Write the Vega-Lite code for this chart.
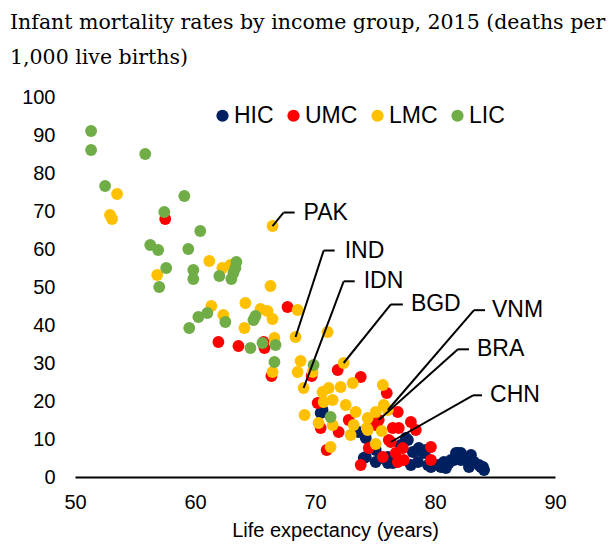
{
  "$schema": "https://vega.github.io/schema/vega-lite/v6.json",
  "width": 480,
  "height": 380,
  "autosize": "none",
  "padding": {"left": 75, "top": 97, "right": 54, "bottom": 71},
  "background": "white",
  "title": {
    "text": ["Infant mortality rates by income group, 2015 (deaths per", "1,000 live births)"],
    "anchor": "start",
    "frame": "group",
    "dx": -65,
    "dy": -9,
    "font": "DejaVu Serif",
    "fontSize": 20.5,
    "fontWeight": "normal",
    "color": "black",
    "lineHeight": 35,
    "offset": 10
  },
  "config": {
    "view": {"stroke": null},
    "axis": {"grid": false, "ticks": false}
  },
  "datasets": {
    "pts": [
      {"g":"HIC","le":70.63,"imr":17.63},{"g":"HIC","le":70.47,"imr":16.84},{"g":"HIC","le":73.64,"imr":11.84},{"g":"HIC","le":74.23,"imr":10.26},
      {"g":"HIC","le":74.06,"imr":5.0},{"g":"HIC","le":75.06,"imr":3.95},{"g":"HIC","le":76.07,"imr":3.68},{"g":"HIC","le":77.57,"imr":10.26},
      {"g":"HIC","le":77.74,"imr":9.74},{"g":"HIC","le":77.15,"imr":8.42},{"g":"HIC","le":78.15,"imr":6.58},{"g":"HIC","le":78.65,"imr":7.63},
      {"g":"HIC","le":78.57,"imr":3.95},{"g":"HIC","le":78.57,"imr":7.11},{"g":"HIC","le":79.07,"imr":6.32},{"g":"HIC","le":79.24,"imr":7.11},
      {"g":"HIC","le":79.41,"imr":3.16},{"g":"HIC","le":79.66,"imr":2.63},{"g":"HIC","le":80.24,"imr":3.16},{"g":"HIC","le":80.49,"imr":2.63},
      {"g":"HIC","le":80.74,"imr":3.95},{"g":"HIC","le":81.16,"imr":3.68},{"g":"HIC","le":81.33,"imr":4.47},{"g":"HIC","le":81.58,"imr":4.47},
      {"g":"HIC","le":81.75,"imr":6.32},{"g":"HIC","le":81.91,"imr":6.32},{"g":"HIC","le":82.0,"imr":5.0},{"g":"HIC","le":82.16,"imr":6.32},
      {"g":"HIC","le":82.16,"imr":4.47},{"g":"HIC","le":82.58,"imr":4.47},{"g":"HIC","le":82.75,"imr":3.95},{"g":"HIC","le":82.83,"imr":2.63},
      {"g":"HIC","le":83.17,"imr":3.95},{"g":"HIC","le":83.25,"imr":3.95},{"g":"HIC","le":83.67,"imr":3.16},{"g":"HIC","le":83.83,"imr":2.63},
      {"g":"HIC","le":84.0,"imr":2.63},{"g":"HIC","le":84.09,"imr":1.84},{"g":"HIC","le":75.48,"imr":5.0},{"g":"HIC","le":76.07,"imr":5.26},
      {"g":"HIC","le":74.23,"imr":5.26},{"g":"HIC","le":76.48,"imr":3.68},{"g":"HIC","le":77.99,"imr":3.16},{"g":"HIC","le":75.06,"imr":7.11},
      {"g":"HIC","le":83.0,"imr":5.79},{"g":"HIC","le":80.91,"imr":2.37},
      {"g":"UMC","le":57.52,"imr":67.89},{"g":"UMC","le":61.95,"imr":35.53},{"g":"UMC","le":63.62,"imr":34.47},{"g":"UMC","le":65.71,"imr":35.53},
      {"g":"UMC","le":65.79,"imr":33.95},{"g":"UMC","le":67.71,"imr":44.74},{"g":"UMC","le":69.72,"imr":26.58},{"g":"UMC","le":66.37,"imr":26.58},
      {"g":"UMC","le":70.22,"imr":19.47},{"g":"UMC","le":70.47,"imr":12.89},{"g":"UMC","le":71.89,"imr":28.16},{"g":"UMC","le":73.81,"imr":26.32},
      {"g":"UMC","le":75.98,"imr":22.11},{"g":"UMC","le":70.97,"imr":7.11},{"g":"UMC","le":71.97,"imr":11.84},{"g":"UMC","le":72.81,"imr":15.0},
      {"g":"UMC","le":74.48,"imr":7.63},{"g":"UMC","le":73.81,"imr":3.16},{"g":"UMC","le":75.65,"imr":5.26},{"g":"UMC","le":76.15,"imr":9.74},
      {"g":"UMC","le":76.73,"imr":6.32},{"g":"UMC","le":77.32,"imr":7.63},{"g":"UMC","le":76.9,"imr":3.95},{"g":"UMC","le":77.4,"imr":4.47},
      {"g":"UMC","le":76.98,"imr":12.89},{"g":"UMC","le":77.99,"imr":14.47},{"g":"UMC","le":78.4,"imr":12.37},{"g":"UMC","le":76.32,"imr":9.21},
      {"g":"UMC","le":79.66,"imr":7.89},{"g":"UMC","le":79.66,"imr":4.47},{"g":"UMC","le":75.06,"imr":13.68},{"g":"UMC","le":76.48,"imr":12.89},
      {"g":"UMC","le":76.9,"imr":17.11},{"g":"UMC","le":75.31,"imr":15.0},
      {"g":"LMC","le":53.51,"imr":74.47},{"g":"LMC","le":52.92,"imr":68.95},{"g":"LMC","le":53.09,"imr":67.89},{"g":"LMC","le":56.85,"imr":53.16},
      {"g":"LMC","le":61.19,"imr":56.84},{"g":"LMC","le":62.28,"imr":55.0},{"g":"LMC","le":62.95,"imr":55.79},{"g":"LMC","le":66.29,"imr":50.26},
      {"g":"LMC","le":66.46,"imr":66.05},{"g":"LMC","le":61.36,"imr":45.0},{"g":"LMC","le":62.36,"imr":42.63},{"g":"LMC","le":64.2,"imr":45.79},
      {"g":"LMC","le":65.46,"imr":44.21},{"g":"LMC","le":66.04,"imr":43.68},{"g":"LMC","le":66.46,"imr":41.58},{"g":"LMC","le":64.12,"imr":39.21},
      {"g":"LMC","le":68.55,"imr":43.95},{"g":"LMC","le":66.62,"imr":36.58},{"g":"LMC","le":68.38,"imr":36.84},{"g":"LMC","le":71.05,"imr":38.16},
      {"g":"LMC","le":66.46,"imr":27.63},{"g":"LMC","le":68.8,"imr":30.53},{"g":"LMC","le":68.55,"imr":27.63},{"g":"LMC","le":69.8,"imr":27.63},
      {"g":"LMC","le":69.05,"imr":23.42},{"g":"LMC","le":72.39,"imr":30.0},{"g":"LMC","le":73.14,"imr":24.74},{"g":"LMC","le":75.65,"imr":24.21},
      {"g":"LMC","le":70.63,"imr":22.37},{"g":"LMC","le":71.14,"imr":23.42},{"g":"LMC","le":72.14,"imr":23.68},{"g":"LMC","le":70.72,"imr":19.74},
      {"g":"LMC","le":71.47,"imr":20.26},{"g":"LMC","le":69.13,"imr":16.32},{"g":"LMC","le":72.56,"imr":18.95},{"g":"LMC","le":73.39,"imr":17.11},
      {"g":"LMC","le":73.22,"imr":13.68},{"g":"LMC","le":72.97,"imr":11.05},{"g":"LMC","le":74.39,"imr":15.53},{"g":"LMC","le":75.06,"imr":17.11},
      {"g":"LMC","le":76.07,"imr":17.63},{"g":"LMC","le":70.3,"imr":14.21},{"g":"LMC","le":71.47,"imr":13.68},{"g":"LMC","le":74.31,"imr":12.89},
      {"g":"LMC","le":75.56,"imr":12.11},{"g":"LMC","le":75.06,"imr":8.68},{"g":"LMC","le":71.3,"imr":7.89},{"g":"LMC","le":74.39,"imr":12.37},
      {"g":"LMC","le":75.73,"imr":18.95},
      {"g":"LIC","le":51.34,"imr":91.05},{"g":"LIC","le":51.34,"imr":86.05},{"g":"LIC","le":55.85,"imr":85.0},{"g":"LIC","le":52.51,"imr":76.58},
      {"g":"LIC","le":59.11,"imr":73.95},{"g":"LIC","le":57.44,"imr":69.74},{"g":"LIC","le":60.44,"imr":64.74},{"g":"LIC","le":56.27,"imr":61.05},
      {"g":"LIC","le":56.93,"imr":59.74},{"g":"LIC","le":59.44,"imr":60.0},{"g":"LIC","le":57.6,"imr":55.0},{"g":"LIC","le":59.86,"imr":54.47},
      {"g":"LIC","le":59.86,"imr":52.11},{"g":"LIC","le":57.02,"imr":50.0},{"g":"LIC","le":62.03,"imr":52.89},{"g":"LIC","le":63.45,"imr":56.58},
      {"g":"LIC","le":63.37,"imr":55.0},{"g":"LIC","le":63.2,"imr":53.68},{"g":"LIC","le":63.03,"imr":52.11},{"g":"LIC","le":61.03,"imr":43.16},
      {"g":"LIC","le":60.28,"imr":42.11},{"g":"LIC","le":59.52,"imr":39.21},{"g":"LIC","le":62.53,"imr":40.79},{"g":"LIC","le":65.04,"imr":42.37},
      {"g":"LIC","le":64.87,"imr":41.32},{"g":"LIC","le":64.62,"imr":33.95},{"g":"LIC","le":65.62,"imr":35.26},{"g":"LIC","le":66.71,"imr":34.74},
      {"g":"LIC","le":66.62,"imr":30.26},{"g":"LIC","le":69.88,"imr":29.47},{"g":"LIC","le":71.3,"imr":15.79}
    ],
    "segs": [
      {"le":66.46,"imr":66.05,"le2":67.38,"imr2":69.6},{"le":67.38,"imr":69.6,"le2":68.30,"imr2":69.6},
      {"le":68.38,"imr":36.84,"le2":70.72,"imr2":59.6},{"le":70.72,"imr":59.6,"le2":71.64,"imr2":59.6},
      {"le":69.05,"imr":23.42,"le2":72.39,"imr2":51.5},{"le":72.39,"imr":51.5,"le2":73.31,"imr2":51.5},
      {"le":72.39,"imr":30.0,"le2":76.32,"imr2":45.4},{"le":76.32,"imr":45.4,"le2":77.32,"imr2":45.4},
      {"le":76.07,"imr":17.63,"le2":83.25,"imr2":43.9},{"le":83.25,"imr":43.9,"le2":84.17,"imr2":43.9},
      {"le":75.31,"imr":15.0,"le2":81.91,"imr2":33.6},{"le":81.91,"imr":33.6,"le2":82.83,"imr2":33.6},
      {"le":76.32,"imr":9.21,"le2":83.17,"imr2":21.5},{"le":83.17,"imr":21.5,"le2":83.92,"imr2":21.5}
    ],
    "labs": [
      {"lab":"PAK","le":69.05,"imr":69.6},
      {"lab":"IND","le":72.47,"imr":59.6},
      {"lab":"IDN","le":74.06,"imr":51.5},
      {"lab":"BGD","le":77.99,"imr":45.4},
      {"lab":"VNM","le":84.75,"imr":43.9},
      {"lab":"BRA","le":83.5,"imr":33.6},
      {"lab":"CHN","le":84.59,"imr":21.5}
    ]
  },
  "encoding": {
    "x": {"field": "le", "type": "quantitative", "scale": {"domain": [50, 90], "nice": false, "zero": false},
      "axis": {"title": "Life expectancy (years)", "values": [50, 60, 70, 80, 90], "domainColor": "black", "domainWidth": 2,
        "labelFont": "Liberation Sans", "labelFontSize": 20, "labelColor": "black",
        "titleFont": "Liberation Sans", "titleFontSize": 20, "titleFontWeight": "normal", "titleColor": "black",
        "labelPadding": 15, "titlePadding": 8, "titleX": 260, "labelFlush": false}},
    "y": {"field": "imr", "type": "quantitative", "scale": {"domain": [0, 100], "nice": false},
      "axis": {"title": null, "values": [0, 10, 20, 30, 40, 50, 60, 70, 80, 90, 100], "domain": false,
        "labelFont": "Liberation Sans", "labelFontSize": 20, "labelColor": "black", "labelPadding": 20}}
  },
  "layer": [
    {
      "data": {"name": "pts"},
      "mark": {"type": "point", "filled": true, "shape": "circle", "size": 140, "opacity": 1, "strokeWidth": 0},
      "encoding": {
        "color": {"field": "g", "type": "nominal",
          "scale": {"domain": ["HIC", "UMC", "LMC", "LIC"], "range": ["#002060", "#FF0000", "#FFC000", "#70AD47"]},
          "legend": {"title": null, "orient": "none", "direction": "horizontal", "legendX": 136, "legendY": 7,
            "labelFont": "Liberation Sans", "labelFontSize": 23, "labelColor": "black", "symbolSize": 150, "symbolType": "circle",
            "symbolStrokeWidth": 0, "labelOffset": 0, "columnPadding": 8, "symbolOpacity": 1}
        }
      }
    },
    {
      "data": {"name": "segs"},
      "mark": {"type": "rule", "color": "black", "strokeWidth": 2},
      "encoding": {"x2": {"field": "le2"}, "y2": {"field": "imr2"}}
    },
    {
      "data": {"name": "labs"},
      "mark": {"type": "text", "align": "left", "baseline": "middle", "font": "Liberation Sans", "fontSize": 23, "color": "black"},
      "encoding": {"text": {"field": "lab"}}
    }
  ]
}
